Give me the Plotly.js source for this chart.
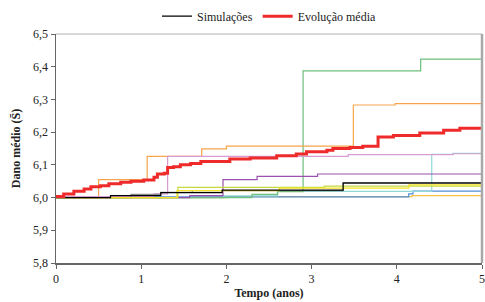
<!DOCTYPE html>
<html>
<head>
<meta charset="utf-8">
<script src="https://cdn.plot.ly/plotly-3.0.1.min.js"></script>
<style>html,body{margin:0;padding:0;background:#fff;}</style>
</head>
<body>
<div id="chart" style="width:485px;height:302px;"></div>
<script>
// Simulated paths (step functions): years and mean damage values
const greenX = [0, 2.3, 2.6, 2.9, 4.28, 5];
const greenY = [6.0, 6.01, 6.018, 6.387, 6.423, 6.423];
const orangeX = [0, 0.5, 1.07, 1.71, 2.0, 3.49, 3.98, 5];
const orangeY = [6.0, 6.055, 6.126, 6.149, 6.157, 6.283, 6.287, 6.287];
const pinkX = [0, 1.15, 1.31, 3.43, 4.66, 5];
const pinkY = [6.003, 6.011, 6.126, 6.131, 6.134, 6.134];
const tealX = [0, 1.96, 2.6, 4.41, 4.66, 5];
const tealY = [6.0, 6.005, 6.019, 6.132, 6.135, 6.135];
const purpleX = [0, 1.57, 1.96, 2.36, 3.07, 5];
const purpleY = [6.0, 6.006, 6.055, 6.065, 6.072, 6.072];
const grayX = [0, 0.88, 1.23, 1.6, 3.37, 5];
const grayY = [6.0, 6.01, 6.016, 6.021, 6.043, 6.043];
const blackX = [0, 0.64, 1.23, 1.95, 3.37, 5];
const blackY = [6.0, 6.006, 6.015, 6.023, 6.045, 6.045];
const limeX = [0, 1.43, 3.15, 5];
const limeY = [6.0, 6.031, 6.035, 6.035];
const yellowX = [0, 1.42, 2.62, 4.14, 5];
const yellowY = [6.0, 6.021, 6.029, 6.039, 6.039];
const goldX = [0, 2.0, 4.18, 5];
const goldY = [6.0, 6.003, 6.006, 6.006];
const blueX = [0, 4.14, 4.19, 5];
const blueY = [6.002, 6.011, 6.02, 6.02];
// Mean evolution
const meanX = [0,0.09,0.21,0.33,0.41,0.52,0.62,0.76,0.88,1.03,1.15,1.19,1.27,1.31,1.38,1.46,1.58,1.70,2.04,2.28,2.59,2.82,2.94,3.18,3.25,3.45,3.6,3.78,3.96,4.27,4.55,4.74,5];
const meanY = [6.003,6.011,6.019,6.026,6.033,6.036,6.042,6.047,6.05,6.054,6.062,6.072,6.074,6.092,6.094,6.10,6.104,6.11,6.118,6.121,6.128,6.133,6.14,6.145,6.15,6.153,6.157,6.185,6.19,6.197,6.206,6.212,6.214];

const xTicks = [0,1,2,3,4,5];
const yTicks = [5.8,5.9,6.0,6.1,6.2,6.3,6.4,6.5];

function sim(x, y, color, name, show) {
  return {x: x, y: y, type: 'scatter', mode: 'lines', line: {shape: 'hv', color: color, width: 1.2},
    name: name || '', showlegend: !!show, hoverinfo: 'skip'};
}
const traces = [
  sim(goldX, goldY, '#f5c243'),
  sim(blueX, blueY, '#4f8fd8'),
  sim(tealX, tealY, '#8fd8d6'),
  sim(greenX, greenY, '#6cbf7c'),
  sim(orangeX, orangeY, '#f7a44c'),
  sim(pinkX, pinkY, '#d89ad2'),
  sim(purpleX, purpleY, '#9b52ae'),
  sim(grayX, grayY, '#8a8a8a'),
  sim(limeX, limeY, '#c5d93f'),
  sim(yellowX, yellowY, '#f4e326'),
  sim(blackX, blackY, '#000000', 'Simulações', true),
  {x: meanX, y: meanY, type: 'scatter', mode: 'lines', line: {shape: 'hv', color: '#ee2a2a', width: 3},
    name: 'Evolução média', showlegend: true}
];

const font = {family: 'Liberation Serif, Times New Roman, serif', size: 11, color: '#222'};
const layout = {
  width: 485, height: 302,
  margin: {l: 56, r: 3, t: 33, b: 39},
  paper_bgcolor: '#fff', plot_bgcolor: '#fff',
  separators: ',.',
  font: font,
  showlegend: true,
  legend: {orientation: 'h', x: 0.5, xanchor: 'center', y: 1.01, yanchor: 'bottom', bgcolor: 'rgba(0,0,0,0)',
    font: {family: font.family, size: 12, color: '#222'}, itemwidth: 30, tracegroupgap: 0, traceorder: 'normal'},
  xaxis: {range: [0, 5], tickvals: xTicks, ticks: 'outside', ticklen: 4, tickcolor: '#666',
    showline: true, linecolor: '#666', linewidth: 1.5, showgrid: false, zeroline: false,
    tickfont: {family: font.family, size: 12, color: '#222'},
    title: {text: '<b>Tempo (anos)</b>', font: {family: font.family, size: 12, color: '#222'}, standoff: 3}},
  yaxis: {range: [5.8, 6.5], tickvals: yTicks, tickformat: '.1f', ticks: 'outside', ticklen: 4, tickcolor: '#666',
    showline: true, linecolor: '#666', linewidth: 1.5, showgrid: false, zeroline: false,
    tickfont: {family: font.family, size: 12, color: '#222'},
    title: {text: '<b>Dano médio (S̄)</b>', font: {family: font.family, size: 12, color: '#222'}, standoff: 10}},
  shapes: [
    {type: 'line', xref: 'paper', yref: 'paper', x0: 0, x1: 1, y0: 1, y1: 1, line: {color: '#b0b0b0', width: 1}},
    {type: 'line', xref: 'paper', yref: 'paper', x0: 1, x1: 1, y0: 0, y1: 1, line: {color: '#a8a8a8', width: 2.5}}
  ]
};
Plotly.newPlot('chart', traces, layout, {displayModeBar: false, staticPlot: true});
</script>
</body>
</html>
